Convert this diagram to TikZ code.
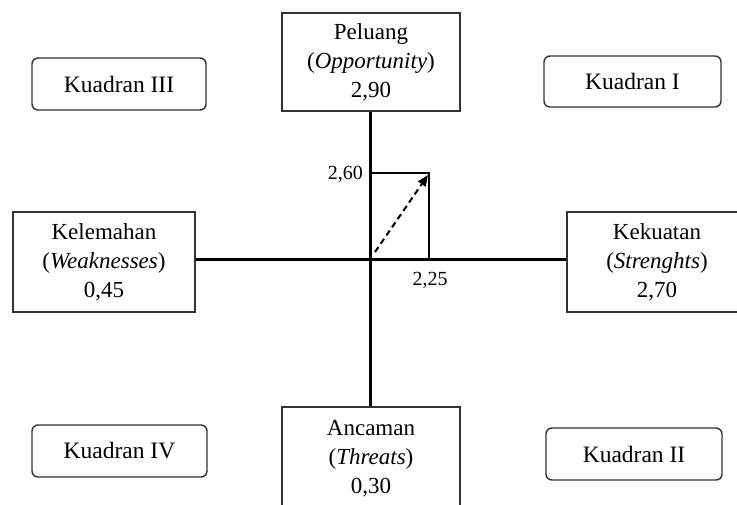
\documentclass[tikz,border=0pt]{standalone}
\usepackage{fontspec}
\setmainfont{Liberation Serif}
\usetikzlibrary{arrows.meta}
\tikzset{
  bigbox/.style={draw=black!80, line width=1.2pt, rectangle, align=center, inner sep=0pt,
    font=\fontsize{23}{29}\selectfont},
  quadbox/.style={draw=black!80, line width=1.4pt, rounded corners=6pt, inner sep=0pt,
    font=\fontsize{23.5}{26}\selectfont},
  axisline/.style={line width=3pt, black},
  guideline/.style={line width=1.3pt, black},
  vecline/.style={line width=2pt, black, dash pattern=on 6pt off 4pt, -{Triangle[length=11pt,width=9pt]}},
  numlabel/.style={inner sep=0pt, font=\fontsize{20}{22}\selectfont}
}
\begin{document}
\begin{tikzpicture}[x=1pt, y=-1pt]
\useasboundingbox (0,0) rectangle (737,504);
\clip (0,0) rectangle (737,504);
\fill[white] (0,0) rectangle (737,504);
% main boxes
\node[bigbox, minimum width=178pt, minimum height=98pt] (opp) at (371,62)
  {Peluang\\(\textit{Opportunity})\\2,90};
\node[bigbox, minimum width=178pt, minimum height=103pt] (thr) at (371,458.5)
  {Ancaman\\(\textit{Threats})\\0,30};
\node[bigbox, minimum width=182pt, minimum height=100pt] (weak) at (104,262)
  {Kelemahan\\(\textit{Weaknesses})\\0,45};
\node[bigbox, minimum width=180pt, minimum height=100pt] (str) at (657,262)
  {Kekuatan\\(\textit{Strenghts})\\2,70};
% quadrant boxes
\node[quadbox, minimum width=174pt, minimum height=52pt] (q3) at (119,84) {Kuadran III};
\node[quadbox, minimum width=177pt, minimum height=51pt] (q1) at (632.5,81.5) {Kuadran I};
\node[quadbox, minimum width=175pt, minimum height=52pt] (q4) at (119.5,451) {Kuadran IV};
\node[quadbox, minimum width=176pt, minimum height=52pt] (q2) at (634,454) {Kuadran II};
% axes
\coordinate (o) at (370,259);
\coordinate (ytick) at (370,173);
\coordinate (pt) at (429,173);
\coordinate (xtick) at (429,259);
\coordinate (vstart) at (375,252);
\coordinate (vend) at (428,175);
\draw[guideline] (ytick) -- (pt) -- (xtick);
\draw[axisline] (opp.south -| o) -- (thr.north -| o);
\draw[axisline] (weak.east |- o) -- (str.west |- o);
\draw[vecline] (vstart) -- (vend);
% labels
\node[numlabel, anchor=east] (l260) at (363,174) {2,60};
\node[numlabel, anchor=north] (l225) at (430,272) {2,25};
\end{tikzpicture}
\end{document}
